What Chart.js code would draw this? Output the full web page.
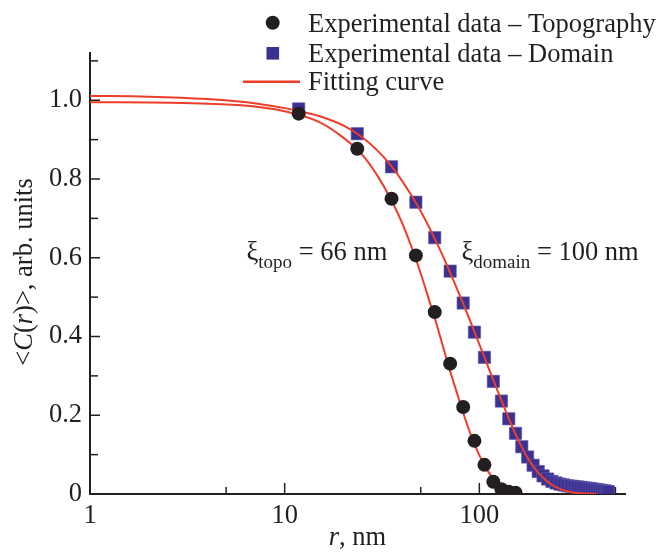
<!DOCTYPE html>
<html>
<head>
<meta charset="utf-8">
<title>Correlation function</title>
<script src="https://cdn.jsdelivr.net/npm/chart.js@4/dist/chart.umd.min.js"></script>
<style>
  body{margin:0;background:#fff;}
  canvas{display:block;}
</style>
</head>
<body>
<canvas id="corrChart" width="670" height="552"></canvas>
<script>
'use strict';

// measured points, r in nm (step of about 11.8 nm)
let topoR=[11.8,23.6,35.4,47.2,59.0,70.8,82.6,94.4,106.2,118.0,129.8,141.6,153.4];
let topoC=[0.966,0.877,0.750,0.606,0.462,0.331,0.221,0.135,0.074,0.031,0.012,0.006,0.003];

let domainR=[11.8,23.6,35.4,47.2,59.0,70.8,82.6,94.4,106.2,118.0,
  129.8,141.6,153.4,165.2,177.0,188.8,200.6,212.4,224.2,236.0,
  247.8,259.6,271.4,283.2,295.0,306.8,318.6,330.4,342.2,354.0,
  365.8,377.6,389.4,401.2,413.0,424.8,436.6,448.4,460.2];
let domainC=[0.978,0.915,0.831,0.741,0.651,0.566,0.485,0.411,0.347,0.286,
  0.236,0.191,0.154,0.120,0.094,0.073,0.057,0.046,0.038,0.032,
  0.028,0.025,0.023,0.021,0.020,0.019,0.018,0.017,0.016,0.015,
  0.014,0.013,0.012,0.011,0.010,0.009,0.008,0.007,0.006];

// fitting curves
let fitTopoR=[1,3,6,10,15,20,25,30,35,40,45,50,55,60,65,70,75,80,85,90,95,100,110,120,130,140,150,160];
let fitTopoC=[0.995,0.993,0.987,0.972,0.945,0.905,0.862,0.808,0.750,0.690,0.625,0.560,0.495,0.435,0.375,0.320,0.272,0.228,0.188,0.153,0.124,0.098,0.060,0.035,0.019,0.010,0.005,0.002];

let fitDomainR=[1,2,4,6,8,10,12,15,20,25,30,35,40,45,50,55,60,65,70,75,80,85,90,95,100,110,120,130,140,150,160,170,180,190,200,220,240,260,280,300,330,360,400];
let fitDomainC=[1.011,1.009,1.003,0.996,0.988,0.980,0.972,0.960,0.936,0.906,0.872,0.835,0.796,0.757,0.718,0.679,0.641,0.604,0.568,0.533,0.500,0.468,0.438,0.408,0.380,0.328,0.280,0.237,0.198,0.163,0.133,0.107,0.086,0.069,0.055,0.035,0.021,0.013,0.0075,0.004,0.002,0.001,0.0003];

// axes
let xTicks=[1,5,10,50,100,500];
let xTickLabels=['1','','10','','100',''];
let yTicks=[0,0.1,0.2,0.3,0.4,0.5,0.6,0.7,0.8,0.9,1.0,1.1];
let yTickLabels=['0','','0.2','','0.4','','0.6','','0.8','','1.0',''];

let seriesNames=['Experimental data – Topography','Experimental data – Domain','Fitting curve'];
let topoNote=['ξ','topo',' = 66 nm'];
let domainNote=['ξ','domain',' = 100 nm'];

///////////////////

let inkColor='#231f20';
let squareColor='#3b3191';
let fitColor='#ee3d29';
let serif="'Liberation Serif', 'Times New Roman', serif";
let textSize=26.5;

Chart.defaults.font.family=serif;
Chart.defaults.font.size=textSize;
Chart.defaults.color=inkColor;

function toPoints(xs, ys){
  let pts=[];
  for(let i=0;i<xs.length;i++){
    pts.push({x:xs[i], y:ys[i]});
  }
  return pts;
}

// draws pieces of text one after another, returns the total width
function drawPieces(c, pieces, x, y, measureOnly){
  let w=0;
  for(let i=0;i<pieces.length;i++){
    c.font=pieces[i].font;
    if(!measureOnly){
      c.fillText(pieces[i].text, x+w, y+(pieces[i].dy||0));
    }
    w+=c.measureText(pieces[i].text).width;
  }
  return w;
}

function notePieces(note){
  return [
    {text:note[0], font:textSize+'px '+serif},
    {text:note[1], font:'19px '+serif, dy:8},
    {text:note[2], font:textSize+'px '+serif}
  ];
}

let overlay={
  id:'overlay',
  afterDraw(chart){
    let c=chart.ctx;
    let area=chart.chartArea;
    let xs=chart.scales.x;
    let ys=chart.scales.y;
    c.save();
    c.strokeStyle=inkColor;
    c.fillStyle=inkColor;
    c.lineWidth=1.5;

    // inward ticks
    for(let i=1;i<xTicks.length;i++){
      let px=xs.getPixelForValue(xTicks[i]);
      let len=xTickLabels[i]==='' ? 7 : 11;
      c.beginPath();
      c.moveTo(px, area.bottom);
      c.lineTo(px, area.bottom-len);
      c.stroke();
    }
    for(let i=1;i<yTicks.length;i++){
      let py=ys.getPixelForValue(yTicks[i]);
      let len=yTickLabels[i]==='' ? 8 : 10;
      c.beginPath();
      c.moveTo(area.left, py);
      c.lineTo(area.left+len, py);
      c.stroke();
    }

    // legend
    c.beginPath();
    c.arc(272.7, 22.7, 7, 0, Math.PI*2);
    c.fill();
    c.fillStyle=squareColor;
    c.fillRect(266.5, 47, 12.6, 12.6);
    c.strokeStyle=fitColor;
    c.lineWidth=2.5;
    c.beginPath();
    c.moveTo(243, 81.7);
    c.lineTo(300, 81.7);
    c.stroke();

    c.fillStyle=inkColor;
    c.textAlign='left';
    c.textBaseline='alphabetic';
    c.font=textSize+'px '+serif;
    c.fillText(seriesNames[0], 308, 32);
    c.fillText(seriesNames[1], 308, 61.5);
    c.fillText(seriesNames[2], 308, 90);

    // correlation lengths
    drawPieces(c, notePieces(topoNote), 246.5, 260);
    drawPieces(c, notePieces(domainNote), 461.5, 260);

    // x title
    let xTitle=[
      {text:'r', font:'italic '+textSize+'px '+serif},
      {text:', nm', font:textSize+'px '+serif}
    ];
    let wx=drawPieces(c, xTitle, 0, 0, true);
    drawPieces(c, xTitle, (area.left+area.right)/2-wx/2, 545);

    // y title
    let yTitle=[
      {text:'<', font:textSize+'px '+serif},
      {text:'C', font:'italic '+textSize+'px '+serif},
      {text:'(', font:textSize+'px '+serif},
      {text:'r', font:'italic '+textSize+'px '+serif},
      {text:')>, arb. units', font:textSize+'px '+serif}
    ];
    let wy=drawPieces(c, yTitle, 0, 0, true);
    c.translate(25, 272);
    c.rotate(-Math.PI/2);
    c.textBaseline='middle';
    drawPieces(c, yTitle, -wy/2, 0);
    c.restore();
  }
};

let chartCtx=document.getElementById('corrChart').getContext('2d');

let corrChart=new Chart(chartCtx, {
  type:'line',
  data:{
    datasets:[{
      label:seriesNames[0],
      data:toPoints(topoR, topoC),
      showLine:false,
      pointStyle:'circle',
      pointRadius:7,
      pointBackgroundColor:inkColor,
      pointBorderColor:inkColor,
      pointBorderWidth:0,
      order:0
    },{
      label:seriesNames[1],
      data:toPoints(domainR, domainC),
      showLine:false,
      pointStyle:'rect',
      pointRadius:8.7,
      pointBackgroundColor:squareColor,
      pointBorderColor:'#5f57a8',
      pointBorderWidth:0.6,
      order:2
    },{
      label:seriesNames[2],
      data:toPoints(fitTopoR, fitTopoC),
      pointRadius:0,
      borderColor:fitColor,
      borderWidth:2,
      cubicInterpolationMode:'monotone',
      order:1
    },{
      label:seriesNames[2],
      data:toPoints(fitDomainR, fitDomainC),
      pointRadius:0,
      borderColor:fitColor,
      borderWidth:2,
      cubicInterpolationMode:'monotone',
      order:1
    }]
  },
  options:{
    responsive:false,
    animation:false,
    events:[],
    layout:{padding:{top:53, right:45, left:0, bottom:0}},
    plugins:{
      legend:{display:false},
      tooltip:{enabled:false}
    },
    scales:{
      x:{
        type:'logarithmic',
        min:1,
        max:560,
        grid:{display:false, drawTicks:false},
        border:{display:true, color:inkColor, width:2},
        ticks:{
          padding:6,
          autoSkip:false,
          maxRotation:0,
          callback:function(value){
            let i=xTicks.indexOf(value);
            return i<0 ? '' : xTickLabels[i];
          }
        },
        afterBuildTicks:function(scale){
          scale.ticks=xTicks.map(function(v){ return {value:v}; });
        },
        afterFit:function(scale){ scale.height=58; }
      },
      y:{
        type:'linear',
        min:0,
        max:1.12,
        grid:{display:false, drawTicks:false},
        border:{display:true, color:inkColor, width:2},
        ticks:{
          padding:8,
          autoSkip:false,
          callback:function(value, index){
            return yTickLabels[index];
          }
        },
        afterBuildTicks:function(scale){
          scale.ticks=yTicks.map(function(v){ return {value:v}; });
        },
        afterFit:function(scale){ scale.width=90; }
      }
    }
  },
  plugins:[overlay]
});
</script>
</body>
</html>
